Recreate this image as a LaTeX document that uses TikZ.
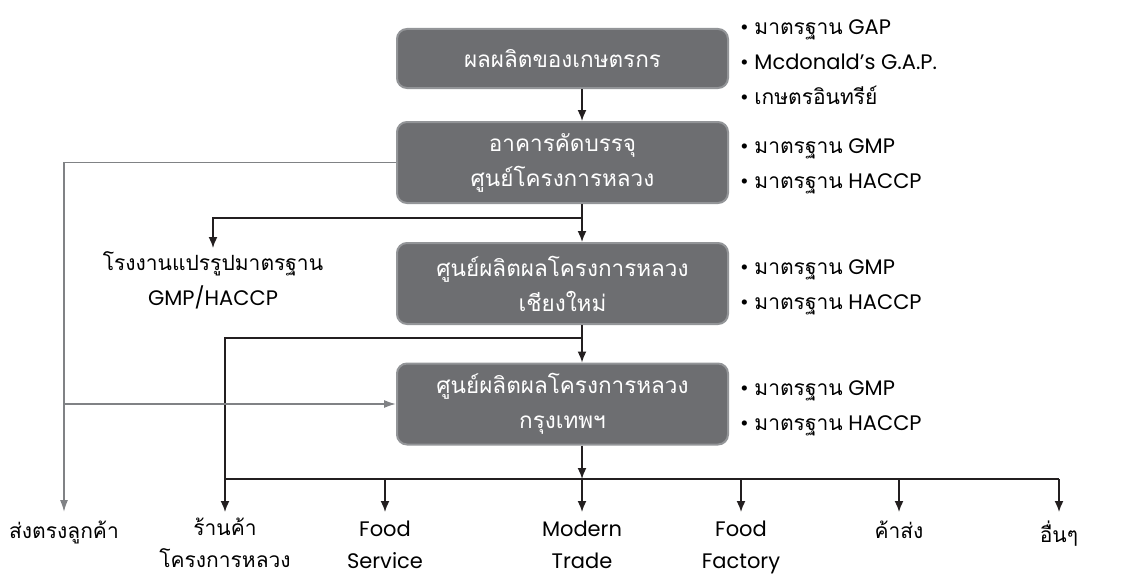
\documentclass[tikz,border=0pt]{standalone}
\usepackage{fontspec}
\setmainfont{Poppins}
\newfontfamily\thaifont[Script=Thai]{Loma}
\newcommand{\tht}[1]{{\thaifont #1}}
\usetikzlibrary{arrows.meta}

\definecolor{boxgrey}{HTML}{6D6E71}
\definecolor{edgegrey}{HTML}{939598}
\definecolor{linegrey}{HTML}{808285}
\definecolor{ink}{HTML}{231F20}

\begin{document}
\begin{tikzpicture}[x=1pt,y=-1pt,font=\fontsize{21}{35}\selectfont,
  stage/.style={draw=edgegrey,line width=2pt,fill=boxgrey,rounded corners=10pt,text=white,minimum width=331pt,minimum height=81pt,align=center,inner sep=0pt,font=\fontsize{22.5}{35}\selectfont},
  flow/.style={ink,line width=1.6pt,-{Latex[length=11pt,width=9pt]}},
  direct/.style={linegrey,line width=1.6pt,-{Latex[length=12pt,width=8pt]}},
  outlet/.style={anchor=north,align=center,inner sep=0pt,font=\fontsize{21}{32}\selectfont},
  spec/.style={anchor=west,align=left,inner sep=0pt,yshift=-4pt}]

\useasboundingbox (0,0) rectangle (1124,578);

% stages
\node[stage,minimum height=59pt] (farm) at (562.5,58.5) {\tht{ผลผลิตของเกษตรกร}};
\node[stage] (pack) at (562.5,162.5) {\tht{อาคารคัดบรรจุ}\\\tht{ศูนย์โครงการหลวง}};
\node[stage] (cmai) at (562.5,283.5) {\tht{ศูนย์ผลิตผลโครงการหลวง}\\\tht{เชียงใหม่}};
\node[stage] (bkk) at (562.5,404) {\tht{ศูนย์ผลิตผลโครงการหลวง}\\\tht{กรุงเทพฯ}};

% standards
\node[spec] (s1) at ([xshift=11pt]farm.east) {• \tht{มาตรฐาน} GAP\\• Mcdonald’s G.A.P.\\• \tht{เกษตรอินทรีย์}};
\node[spec] (s2) at ([xshift=11pt]pack.east) {• \tht{มาตรฐาน} GMP\\• \tht{มาตรฐาน} HACCP};
\node[spec] (s3) at ([xshift=11pt]cmai.east) {• \tht{มาตรฐาน} GMP\\• \tht{มาตรฐาน} HACCP};
\node[spec] (s4) at ([xshift=11pt]bkk.east) {• \tht{มาตรฐาน} GMP\\• \tht{มาตรฐาน} HACCP};

% outlets (text starts a little below the arrow tips)
\node[outlet,font=\fontsize{21}{35}\selectfont] (plant) at (213,251) {\tht{โรงงานแปรรูปมาตรฐาน}\\GMP/HACCP};
\node[outlet] (direct) at (64,521) {\tht{ส่งตรงลูกค้า}};
\node[outlet] (shop) at (225,518) {\tht{ร้านค้า}\\\tht{โครงการหลวง}};
\node[outlet] (food) at (385,521) {Food\\Service};
\node[outlet] (modern) at (582,521) {Modern\\Trade};
\node[outlet] (factory) at (741,521) {Food\\Factory};
\node[outlet] (whole) at (899,521) {\tht{ค้าส่ง}};
\node[outlet] (other) at (1059,521) {\tht{อื่นๆ}};

\coordinate (spine) at (582,0);
\coordinate (split) at (582,218);
\coordinate (join) at (582,338);
\coordinate (bus) at (582,479);
\coordinate (tips) at (0,512);

% connectors
\draw[flow] (farm.south -| spine) -- (pack.north -| spine);
\draw[flow] (pack.south -| spine) -- (cmai.north -| spine);
\draw[flow] (split) -| ([yshift=3pt]plant.north);
\draw[flow] (cmai.south -| spine) -- (bkk.north -| spine);
\draw[flow] (join) -| (tips -| shop);
\draw[flow] (bkk.south -| spine) -- (bus);
\draw[ink,line width=1.6pt] (bus -| shop) -- (bus -| other);
\foreach \n in {food,modern,factory,whole,other}
  \draw[flow] (bus -| \n) -- (tips -| \n);

\draw[direct] (pack.west) -| (tips -| direct);
\draw[direct] (bkk.west -| direct) -- (bkk.west);

\end{tikzpicture}
\end{document}
